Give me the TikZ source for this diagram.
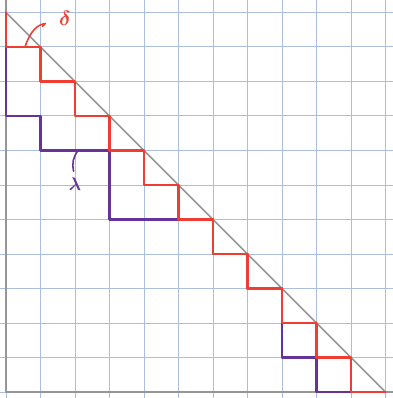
\documentclass[tikz,border=0pt]{standalone}
\usepackage{bm}
\definecolor{gridblue}{RGB}{172,190,222}
\definecolor{stepred}{RGB}{238,62,50}
\definecolor{steppurple}{RGB}{102,52,150}
\definecolor{axisgray}{RGB}{150,150,150}
\begin{document}
\begin{tikzpicture}[line join=round, line cap=round]
            \useasboundingbox (-0.174,-0.174) rectangle (11.217,11.362);
            \draw[gridblue, line width=0.8pt] (-0.174,-0.174) grid (11.217,11.362);
            
            \coordinate (O) at (0,0);
            \coordinate (T) at (0,11);
            \coordinate (R) at (11,0);
            
            \draw[axisgray, line width=1.3pt] (0,11.362) -- (O) -- (11.217,0);
            \draw[axisgray, line width=1.2pt] (T) -- (R);
            
            \draw[steppurple, line width=1.8pt] (0,10) -- (0,8) -- (1,8) -- (1,7) -- (3,7) -- (3,5)
                -- (6,5) -- (6,4) -- (7,4) -- (7,3) -- (8,3) -- (8,1) -- (9,1) -- (9,0) -- (10,0);
            \draw[stepred, line width=1.8pt] (T) -- (0,10)
                \foreach \k in {1,...,10} { -- (\k,11-\k) -- (\k,10-\k) } -- (R);
            
            \node[stepred, scale=1.7] (delta) at (1.71,10.84) {$\bm{\delta}$};
            \coordinate (dfoot) at (0.55,10);
            \coordinate (dtip) at (1.14,10.68);
            \draw[stepred, line width=1.3pt] (dfoot) .. controls (0.7,10.45) and (0.9,10.65) .. (dtip) -- (1.06,10.6);
            
            \node[steppurple, scale=1.5] (lambda) at (2.0,6.02) {$\bm{\lambda}$};
            \coordinate (lfoot) at (2.09,7);
            \coordinate (ltip) at (1.96,6.4);
            \draw[steppurple, line width=1.3pt] (lfoot) to[bend right=25] (ltip);
\end{tikzpicture}
\end{document}
